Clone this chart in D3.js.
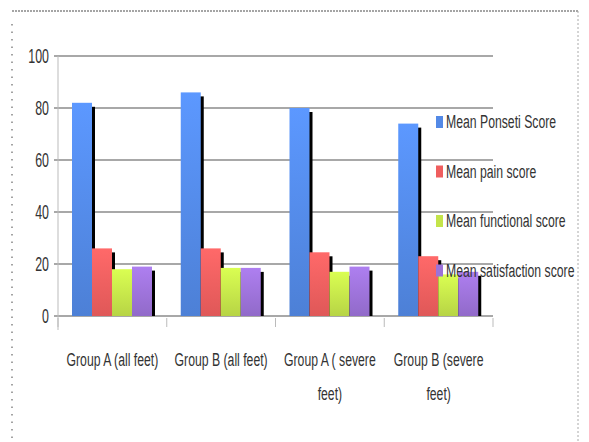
<!DOCTYPE html>
<html>
<head>
<meta charset="utf-8">
<script src="https://cdn.jsdelivr.net/npm/d3@7"></script>
<style>
  body { margin: 0; background: #fff; }
  text { font-family: "Liberation Sans", "DejaVu Sans", sans-serif; fill: #333; }
</style>
</head>
<body>
<div id="chart"></div>
<script>
var groups = ["Group A (all feet)", "Group B (all feet)", "Group A ( severe feet)", "Group B (severe feet)"];
var seriesNames = ["Mean Ponseti Score", "Mean pain score", "Mean functional score", "Mean satisfaction score"];
var ponseti = [82, 86, 80, 74];
var pain = [26, 26, 24.5, 23];
var functional = [18, 18.5, 17, 16];
var satisfaction = [19, 18.5, 19, 17];
var yTicks = [0, 20, 40, 60, 80, 100];
var colors = ["#5389e6", "#ef5e5e", "#c4e44a", "#9c72d8"];

var seriesValues = [ponseti, pain, functional, satisfaction];
var width = 589, height = 442;
var squeeze = 0.68; // narrow font look

var svg = d3.select("#chart").append("svg")
  .attr("width", width).attr("height", height);

// dotted frame
svg.append("line").attr("x1", 12).attr("x2", 578).attr("y1", 11).attr("y2", 11)
  .attr("stroke", "#888").attr("stroke-width", 1.5).attr("stroke-dasharray", "2,1");
svg.append("line").attr("x1", 578).attr("x2", 578).attr("y1", 11).attr("y2", 442)
  .attr("stroke", "#aaa").attr("stroke-width", 1).attr("stroke-dasharray", "2,2");
svg.append("line").attr("x1", 12).attr("x2", 12).attr("y1", 24).attr("y2", 442)
  .attr("stroke", "#666").attr("stroke-width", 1.2).attr("stroke-dasharray", "1.5,6");

var x0 = d3.scaleBand().domain(groups).range([58, 493]);
var x1 = d3.scaleBand().domain(seriesNames).range([14, 94]);
var y = d3.scaleLinear().domain([0, 100]).range([316, 56]);

// gridlines
svg.selectAll(".grid").data(yTicks).enter().append("line")
  .attr("x1", 54).attr("x2", 493)
  .attr("y1", function(d){ return y(d); }).attr("y2", function(d){ return y(d); })
  .attr("stroke", "#a8a8a8").attr("stroke-width", 2);

// y axis line
svg.append("line").attr("x1", 58).attr("x2", 58).attr("y1", 56).attr("y2", 330)
  .attr("stroke", "#bbb").attr("stroke-width", 1);

// y tick labels
svg.selectAll(".ylab").data(yTicks).enter().append("text")
  .attr("transform", function(d){ return "translate(49," + (y(d) + 7) + ") scale(0.62,1)"; })
  .attr("text-anchor", "end").attr("font-size", 20)
  .text(function(d){ return d; });

// x ticks
svg.selectAll(".xtick").data(d3.range(groups.length + 1)).enter().append("line")
  .attr("x1", function(i){ return 58 + i * x0.bandwidth(); })
  .attr("x2", function(i){ return 58 + i * x0.bandwidth(); })
  .attr("y1", 318).attr("y2", 327)
  .attr("stroke", "#bbb").attr("stroke-width", 1);

var defs = svg.append("defs");
colors.forEach(function(c, i){
  var g = defs.append("linearGradient").attr("id", "g" + i)
    .attr("x1", 0).attr("x2", 0).attr("y1", 0).attr("y2", 1);
  g.append("stop").attr("offset", "0%").attr("stop-color", d3.color(c).brighter(0.3));
  g.append("stop").attr("offset", "100%").attr("stop-color", d3.color(c).darker(0.2));
});

var data = [];
groups.forEach(function(g, gi){
  seriesNames.forEach(function(s, si){
    data.push({ group: g, series: s, si: si, value: seriesValues[si][gi] });
  });
});

// shadows
svg.selectAll(".shadow").data(data).enter().append("rect")
  .attr("x", function(d){ return x0(d.group) + x1(d.series) + 3; })
  .attr("y", function(d){ return y(d.value) + 4; })
  .attr("width", x1.bandwidth())
  .attr("height", function(d){ return y(0) - y(d.value) - 4; })
  .attr("fill", "#000");

// bars
svg.selectAll(".bar").data(data).enter().append("rect")
  .attr("x", function(d){ return x0(d.group) + x1(d.series); })
  .attr("y", function(d){ return y(d.value); })
  .attr("width", x1.bandwidth())
  .attr("height", function(d){ return y(0) - y(d.value); })
  .attr("fill", function(d){ return "url(#g" + d.si + ")"; });

// x labels
var xLabelLines = [["Group A (all feet)"], ["Group B (all feet)"], ["Group A ( severe", "feet)"], ["Group B (severe", "feet)"]];
groups.forEach(function(g, gi){
  var cx = x0(g) + x0.bandwidth() / 2;
  xLabelLines[gi].forEach(function(line, li){
    svg.append("text")
      .attr("transform", "translate(" + cx + "," + (366 + li * 34) + ") scale(" + squeeze + ",1)")
      .attr("text-anchor", "middle").attr("font-size", 18)
      .text(line);
  });
});

// legend
var legend = svg.selectAll(".legend").data(seriesNames).enter().append("g")
  .attr("transform", function(d, i){ return "translate(436," + (122 + i * 49.5) + ")"; });
legend.append("rect").attr("x", 0).attr("y", -6).attr("width", 7).attr("height", 12)
  .attr("fill", function(d, i){ return colors[i]; });
legend.append("text")
  .attr("transform", "translate(10,6) scale(" + squeeze + ",1)")
  .attr("font-size", 18)
  .text(function(d){ return d; });
</script>
</body>
</html>
